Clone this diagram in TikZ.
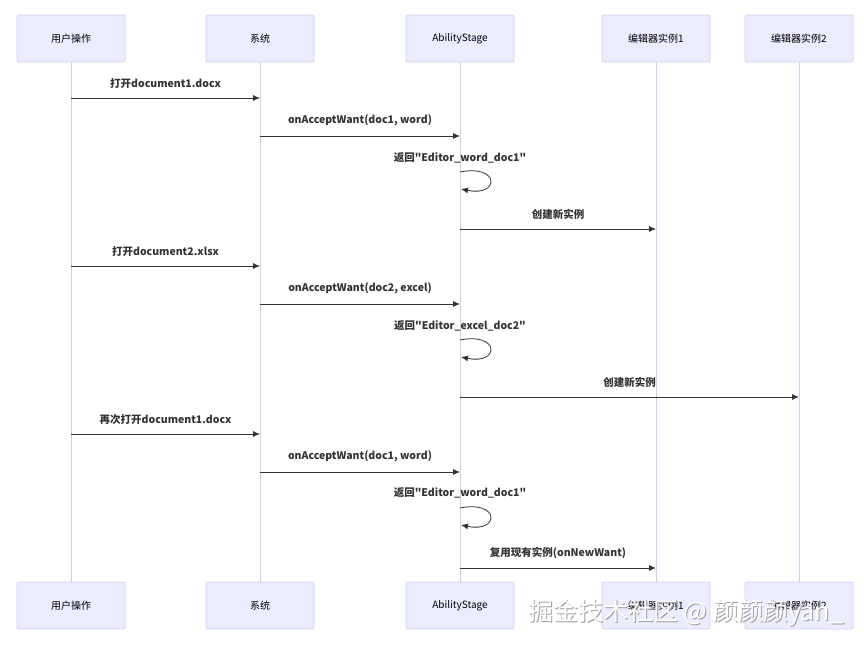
\documentclass[tikz,border=0pt]{standalone}
\usepackage{fontspec}
\setmainfont{Noto Sans CJK SC}[Ligatures=TeXOff]
\usepackage{xcolor}
\usetikzlibrary{arrows.meta}

\definecolor{actorfill}{HTML}{ECECFF}
\definecolor{actorline}{HTML}{D6D0F2}
\definecolor{lifeline}{HTML}{D0CDEB}
\definecolor{msgline}{HTML}{333333}
\newcommand{\dq}{\symbol{34}}

\tikzset{
  actor/.style={rectangle, rounded corners=2pt, fill=actorfill, draw=actorline, line width=0.7pt,
    minimum width=108pt, minimum height=47pt, font=\fontsize{10}{12}\selectfont, text=black},
  msg/.style={draw=msgline, line width=0.8pt, -{Latex[length=7pt,width=6pt]}},
  msglabel/.style={font=\fontsize{10.5}{12}\selectfont\bfseries, text=msgline},
}

\begin{document}
\begin{tikzpicture}[x=1pt, y=-1pt]
\useasboundingbox (0,0) rectangle (864,652);
\node[actor] (userT) at (71,38.5) {用户操作};
\node[actor] (sysT) at (260,38.5) {系统};
\node[actor] (stageT) at (460,38.5) {AbilityStage};
\node[actor] (ed1T) at (656,38.5) {编辑器实例1};
\node[actor] (ed2T) at (799,38.5) {编辑器实例2};
\node[actor] (userB) at (71,605.5) {用户操作};
\node[actor] (sysB) at (260,605.5) {系统};
\node[actor] (stageB) at (460,605.5) {AbilityStage};
\node[actor] (ed1B) at (656,605.5) {编辑器实例1};
\node[actor] (ed2B) at (799,605.5) {编辑器实例2};
\draw[lifeline, line width=0.8pt] (userT)--(userB);
\draw[lifeline, line width=0.8pt] (sysT)--(sysB);
\draw[lifeline, line width=0.8pt] (stageT)--(stageB);
\draw[lifeline, line width=0.8pt] (ed1T)--(ed1B);
\draw[lifeline, line width=0.8pt] (ed2T)--(ed2B);
% first document
\coordinate (u1) at (71,98);
\coordinate (s1) at (260,98);
\coordinate (s2) at (260,136);
\coordinate (a2) at (460,136);
\coordinate (a3) at (460,172);
\coordinate (a3e) at (461,189);
\coordinate (a4) at (460,229);
\coordinate (e4) at (656,229);
\draw[msg] (u1)--(s1) node[msglabel, midway, above=6pt] {打开document1.docx};
\draw[msg] (s2)--(a2) node[msglabel, midway, above=6pt] {onAcceptWant(doc1, word)};
\node[msglabel] at (460,158) {返回\dq Editor\_word\_doc1\dq};
\draw[msg] (a3) .. controls (500,164) and (500,197) .. (a3e);
\draw[msg] (a4)--(e4) node[msglabel, midway, above=6pt] {创建新实例};
% second document
\coordinate (u5) at (71,266);
\coordinate (s5) at (260,266);
\coordinate (s6) at (260,304);
\coordinate (a6) at (460,304);
\coordinate (a7) at (460,340);
\coordinate (a7e) at (461,357);
\coordinate (a8) at (460,397);
\coordinate (e8) at (799,397);
\draw[msg] (u5)--(s5) node[msglabel, midway, above=6pt] {打开document2.xlsx};
\draw[msg] (s6)--(a6) node[msglabel, midway, above=6pt] {onAcceptWant(doc2, excel)};
\node[msglabel] at (460,326) {返回\dq Editor\_excel\_doc2\dq};
\draw[msg] (a7) .. controls (500,332) and (500,365) .. (a7e);
\draw[msg] (a8)--(e8) node[msglabel, midway, above=6pt] {创建新实例};
% reopen first document
\coordinate (u9) at (71,434);
\coordinate (s9) at (260,434);
\coordinate (s10) at (260,472);
\coordinate (a10) at (460,472);
\coordinate (a11) at (460,508);
\coordinate (a11e) at (461,525);
\coordinate (a12) at (460,568);
\coordinate (e12) at (656,568);
\draw[msg] (u9)--(s9) node[msglabel, midway, above=6pt] {再次打开document1.docx};
\draw[msg] (s10)--(a10) node[msglabel, midway, above=6pt] {onAcceptWant(doc1, word)};
\node[msglabel] at (460,493) {返回\dq Editor\_word\_doc1\dq};
\draw[msg] (a11) .. controls (500,500) and (500,533) .. (a11e);
\draw[msg] (a12)--(e12) node[msglabel, midway, above=6pt] {复用现有实例(onNewWant)};
% watermark
\node[font=\fontsize{25}{28}\selectfont, text=gray!75] (markS) at (687.2,614.2) {掘金技术社区 @ 颜颜颜yan\_};
\node[font=\fontsize{25}{28}\selectfont, text=white] (mark) at (686,613) {掘金技术社区 @ 颜颜颜yan\_};
\end{tikzpicture}
\end{document}
